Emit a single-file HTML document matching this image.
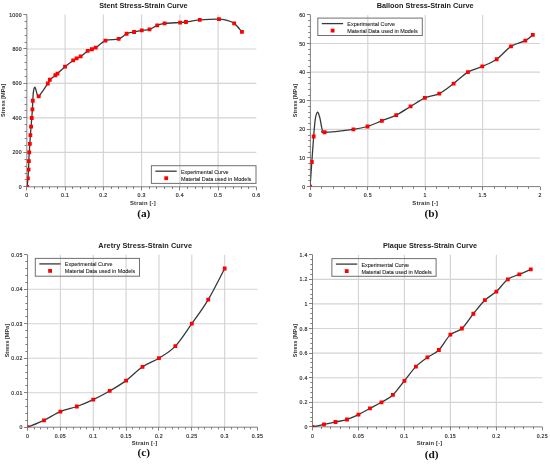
<!DOCTYPE html>
<html><head><meta charset="utf-8"><style>
html,body{margin:0;padding:0;background:#fff;width:550px;height:464px;overflow:hidden}
svg{display:block;will-change:transform}
text{font-family:"Liberation Sans",sans-serif}
</style></head><body>
<svg width="550" height="464" viewBox="0 0 550 464">
<rect width="550" height="464" fill="#fff"/>
<clipPath id="ca"><rect x="26.85" y="14.50" width="229.50" height="172.30"/></clipPath>
<path d="M65.10,14.50V186.80M103.35,14.50V186.80M141.60,14.50V186.80M179.85,14.50V186.80M218.10,14.50V186.80M26.85,152.34H256.35M26.85,117.88H256.35M26.85,83.42H256.35M26.85,48.96H256.35" stroke="#d4d4d4" stroke-width="1.15" fill="none"/>
<path d="M26.85,14.50V186.80M26.85,186.80H256.35M26.50,186.80V190.30M34.50,186.80V189.00M42.50,186.80V189.00M49.50,186.80V189.00M57.50,186.80V189.00M65.50,186.80V190.30M72.50,186.80V189.00M80.50,186.80V189.00M88.50,186.80V189.00M95.50,186.80V189.00M103.50,186.80V190.30M111.50,186.80V189.00M118.50,186.80V189.00M126.50,186.80V189.00M133.50,186.80V189.00M141.50,186.80V190.30M149.50,186.80V189.00M156.50,186.80V189.00M164.50,186.80V189.00M172.50,186.80V189.00M179.50,186.80V190.30M187.50,186.80V189.00M195.50,186.80V189.00M202.50,186.80V189.00M210.50,186.80V189.00M218.50,186.80V190.30M225.50,186.80V189.00M233.50,186.80V189.00M241.50,186.80V189.00M248.50,186.80V189.00M256.50,186.80V190.30M23.35,186.50H26.85M24.65,179.50H26.85M24.65,173.50H26.85M24.65,166.50H26.85M24.65,159.50H26.85M23.35,152.50H26.85M24.65,145.50H26.85M24.65,138.50H26.85M24.65,131.50H26.85M24.65,124.50H26.85M23.35,117.50H26.85M24.65,110.50H26.85M24.65,104.50H26.85M24.65,97.50H26.85M24.65,90.50H26.85M23.35,83.50H26.85M24.65,76.50H26.85M24.65,69.50H26.85M24.65,62.50H26.85M24.65,55.50H26.85M23.35,48.50H26.85M24.65,42.50H26.85M24.65,35.50H26.85M24.65,28.50H26.85M24.65,21.50H26.85M23.35,14.50H26.85" stroke="#707070" stroke-width="0.9" fill="none"/>
<g font-size="5.2" fill="#333" stroke="#333" stroke-width="0.18" letter-spacing="0.3"><text x="26.85" y="197.10" text-anchor="middle">0</text><text x="65.10" y="197.10" text-anchor="middle">0.1</text><text x="103.35" y="197.10" text-anchor="middle">0.2</text><text x="141.60" y="197.10" text-anchor="middle">0.3</text><text x="179.85" y="197.10" text-anchor="middle">0.4</text><text x="218.10" y="197.10" text-anchor="middle">0.5</text><text x="256.35" y="197.10" text-anchor="middle">0.6</text><text x="21.95" y="188.80" text-anchor="end">0</text><text x="21.95" y="154.34" text-anchor="end">200</text><text x="21.95" y="119.88" text-anchor="end">400</text><text x="21.95" y="85.42" text-anchor="end">600</text><text x="21.95" y="50.96" text-anchor="end">800</text><text x="21.95" y="16.50" text-anchor="end">1000</text></g>
<path d="M27.25,186.90 C27.36,185.46 27.68,181.16 27.90,178.28 C28.12,175.41 28.39,172.54 28.55,169.67 C28.71,166.80 28.74,163.93 28.86,161.06 C28.97,158.18 29.07,155.31 29.24,152.44 C29.40,149.57 29.66,146.70 29.85,143.83 C30.04,140.95 30.18,138.08 30.39,135.21 C30.59,132.34 30.85,129.47 31.07,126.59 C31.30,123.72 31.54,120.85 31.76,117.98 C31.99,115.11 32.24,112.24 32.41,109.37 C32.59,106.49 32.64,103.62 32.80,100.75 C32.96,97.88 33.15,94.20 33.37,92.14 C33.59,90.07 33.91,89.15 34.13,88.34 C34.36,87.54 34.52,87.40 34.71,87.31 C34.90,87.22 35.06,87.31 35.28,87.83 C35.51,88.34 35.73,89.32 36.05,90.41 C36.37,91.50 36.75,93.37 37.20,94.37 C37.64,95.38 36.96,98.25 38.73,96.44 C40.49,94.63 45.94,86.31 47.79,83.52 C49.64,80.73 48.56,81.11 49.82,79.73 C51.08,78.35 54.09,76.28 55.36,75.25 C56.64,74.22 55.85,74.96 57.47,73.53 C59.08,72.09 62.43,68.82 65.04,66.63 C67.65,64.45 71.22,61.81 73.15,60.43 C75.08,59.05 75.35,59.02 76.59,58.36 C77.84,57.70 78.76,57.70 80.61,56.47 C82.46,55.23 85.80,52.16 87.69,50.96 C89.57,49.75 90.55,49.78 91.89,49.23 C93.23,48.69 93.45,49.12 95.72,47.68 C97.98,46.25 101.65,42.08 105.47,40.62 C109.30,39.15 115.15,40.04 118.67,38.89 C122.19,37.75 124.02,34.87 126.59,33.73 C129.15,32.58 131.56,32.58 134.08,32.00 C136.61,31.43 139.16,30.71 141.73,30.28 C144.30,29.85 146.92,30.25 149.50,29.42 C152.08,28.59 154.71,26.29 157.22,25.28 C159.74,24.28 160.74,23.85 164.57,23.39 C168.39,22.93 176.60,22.76 180.17,22.53 C183.74,22.30 182.72,22.44 185.99,22.01 C189.25,21.58 194.26,20.43 199.76,19.94 C205.25,19.45 214.56,19.05 218.96,19.08 C223.36,19.11 223.61,19.40 226.15,20.11 C228.69,20.83 231.55,21.43 234.18,23.39 C236.82,25.34 240.65,30.42 241.95,31.83" stroke="#383838" stroke-width="1.3" fill="none" clip-path="url(#ca)"/>
<path d="M25.35,185.00h3.80v3.80h-3.80zM26.00,176.38h3.80v3.80h-3.80zM26.65,167.77h3.80v3.80h-3.80zM26.96,159.16h3.80v3.80h-3.80zM27.34,150.54h3.80v3.80h-3.80zM27.95,141.93h3.80v3.80h-3.80zM28.49,133.31h3.80v3.80h-3.80zM29.18,124.69h3.80v3.80h-3.80zM29.86,116.08h3.80v3.80h-3.80zM30.51,107.47h3.80v3.80h-3.80zM30.90,98.85h3.80v3.80h-3.80zM36.83,94.54h3.80v3.80h-3.80zM45.89,81.62h3.80v3.80h-3.80zM47.92,77.83h3.80v3.80h-3.80zM53.46,73.35h3.80v3.80h-3.80zM55.57,71.63h3.80v3.80h-3.80zM63.14,64.73h3.80v3.80h-3.80zM71.25,58.53h3.80v3.80h-3.80zM74.69,56.46h3.80v3.80h-3.80zM78.71,54.57h3.80v3.80h-3.80zM85.79,49.06h3.80v3.80h-3.80zM89.99,47.33h3.80v3.80h-3.80zM93.82,45.78h3.80v3.80h-3.80zM103.57,38.72h3.80v3.80h-3.80zM116.77,36.99h3.80v3.80h-3.80zM124.69,31.83h3.80v3.80h-3.80zM132.18,30.10h3.80v3.80h-3.80zM139.83,28.38h3.80v3.80h-3.80zM147.60,27.52h3.80v3.80h-3.80zM155.32,23.38h3.80v3.80h-3.80zM162.67,21.49h3.80v3.80h-3.80zM178.27,20.63h3.80v3.80h-3.80zM184.09,20.11h3.80v3.80h-3.80zM197.86,18.04h3.80v3.80h-3.80zM217.06,17.18h3.80v3.80h-3.80zM232.28,21.49h3.80v3.80h-3.80zM240.05,29.93h3.80v3.80h-3.80z" fill="#ff0000" clip-path="url(#ca)"/>
<rect x="151.40" y="165.70" width="104.60" height="17.70" fill="none" stroke="#707070" stroke-width="1"/>
<path d="M155.40,171.20h21.3" stroke="#383838" stroke-width="1.3"/>
<rect x="164.30" y="176.30" width="3.8" height="3.8" fill="#ff0000"/>
<g font-size="5.45" fill="#1a1a1a" stroke="#222" stroke-width="0.08"><text x="180.90" y="173.70">Experimental Curve</text><text x="180.90" y="180.60">Material Data used in Models</text></g>
<text x="143.40" y="8.00" font-size="7.3" font-weight="bold" fill="#222" text-anchor="middle" letter-spacing="0">Stent Stress-Strain Curve</text>
<text x="142.90" y="205.00" font-size="5.9" font-weight="bold" fill="#333" text-anchor="middle" letter-spacing="0.15">Strain [-]</text>
<text transform="translate(5.40,100.40) rotate(-90)" font-size="5.5" font-weight="bold" fill="#333" text-anchor="middle">Stress [MPa]</text>
<text x="143.80" y="217.40" style="font-family:&quot;Liberation Serif&quot;,serif" font-size="11.3" font-weight="bold" fill="#111" text-anchor="middle">(a)</text>
<clipPath id="cb"><rect x="310.40" y="14.90" width="229.60" height="171.70"/></clipPath>
<path d="M367.80,14.90V186.60M425.20,14.90V186.60M482.60,14.90V186.60M310.40,157.98H540.00M310.40,129.37H540.00M310.40,100.75H540.00M310.40,72.13H540.00M310.40,43.52H540.00" stroke="#d4d4d4" stroke-width="1.15" fill="none"/>
<path d="M310.40,14.90V186.60M310.40,186.60H540.00M310.50,186.60V190.10M321.50,186.60V188.80M333.50,186.60V188.80M344.50,186.60V188.80M356.50,186.60V188.80M367.50,186.60V190.10M379.50,186.60V188.80M390.50,186.60V188.80M402.50,186.60V188.80M413.50,186.60V188.80M425.50,186.60V190.10M436.50,186.60V188.80M448.50,186.60V188.80M459.50,186.60V188.80M471.50,186.60V188.80M482.50,186.60V190.10M494.50,186.60V188.80M505.50,186.60V188.80M517.50,186.60V188.80M528.50,186.60V188.80M540.50,186.60V190.10M306.90,186.50H310.40M308.20,180.50H310.40M308.20,175.50H310.40M308.20,169.50H310.40M308.20,163.50H310.40M306.90,157.50H310.40M308.20,152.50H310.40M308.20,146.50H310.40M308.20,140.50H310.40M308.20,135.50H310.40M306.90,129.50H310.40M308.20,123.50H310.40M308.20,117.50H310.40M308.20,112.50H310.40M308.20,106.50H310.40M306.90,100.50H310.40M308.20,95.50H310.40M308.20,89.50H310.40M308.20,83.50H310.40M308.20,77.50H310.40M306.90,72.50H310.40M308.20,66.50H310.40M308.20,60.50H310.40M308.20,54.50H310.40M308.20,49.50H310.40M306.90,43.50H310.40M308.20,37.50H310.40M308.20,32.50H310.40M308.20,26.50H310.40M308.20,20.50H310.40M306.90,14.50H310.40" stroke="#707070" stroke-width="0.9" fill="none"/>
<g font-size="5.2" fill="#333" stroke="#333" stroke-width="0.18" letter-spacing="0.3"><text x="310.40" y="197.00" text-anchor="middle">0</text><text x="367.80" y="197.00" text-anchor="middle">0.5</text><text x="425.20" y="197.00" text-anchor="middle">1</text><text x="482.60" y="197.00" text-anchor="middle">1.5</text><text x="540.00" y="197.00" text-anchor="middle">2</text><text x="305.50" y="188.60" text-anchor="end">0</text><text x="305.50" y="159.98" text-anchor="end">10</text><text x="305.50" y="131.37" text-anchor="end">20</text><text x="305.50" y="102.75" text-anchor="end">30</text><text x="305.50" y="74.13" text-anchor="end">40</text><text x="305.50" y="45.52" text-anchor="end">50</text><text x="305.50" y="16.90" text-anchor="end">60</text></g>
<path d="M310.10,186.60 C310.39,182.50 311.23,170.34 311.82,161.99 C312.42,153.64 313.08,143.63 313.66,136.52 C314.23,129.41 314.62,123.40 315.27,119.35 C315.92,115.30 316.80,112.44 317.56,112.20 C318.33,111.96 319.09,115.06 319.86,117.92 C320.62,120.78 321.37,126.98 322.15,129.37 C322.94,131.75 319.36,132.23 324.56,132.23 C329.77,132.23 346.22,130.32 353.38,129.37 C360.54,128.41 362.75,127.94 367.50,126.50 C372.25,125.07 377.07,122.69 381.85,120.78 C386.63,118.87 391.42,117.44 396.20,115.06 C400.98,112.67 405.77,109.34 410.55,106.47 C415.33,103.61 420.12,100.03 424.90,97.89 C429.68,95.74 434.47,95.98 439.25,93.60 C444.03,91.21 448.82,87.16 453.60,83.58 C458.38,80.00 463.17,74.99 467.95,72.13 C472.73,69.27 477.52,68.56 482.30,66.41 C487.08,64.26 491.87,62.59 496.65,59.26 C501.43,55.92 506.22,49.48 511.00,46.38 C515.78,43.28 521.71,42.56 525.35,40.66 C528.99,38.75 531.57,35.89 532.81,34.93" stroke="#383838" stroke-width="1.3" fill="none" clip-path="url(#cb)"/>
<path d="M308.20,184.70h3.80v3.80h-3.80zM309.92,160.09h3.80v3.80h-3.80zM311.76,134.62h3.80v3.80h-3.80zM322.66,130.33h3.80v3.80h-3.80zM351.48,127.47h3.80v3.80h-3.80zM365.60,124.60h3.80v3.80h-3.80zM379.95,118.88h3.80v3.80h-3.80zM394.30,113.16h3.80v3.80h-3.80zM408.65,104.57h3.80v3.80h-3.80zM423.00,95.99h3.80v3.80h-3.80zM437.35,91.70h3.80v3.80h-3.80zM451.70,81.68h3.80v3.80h-3.80zM466.05,70.23h3.80v3.80h-3.80zM480.40,64.51h3.80v3.80h-3.80zM494.75,57.36h3.80v3.80h-3.80zM509.10,44.48h3.80v3.80h-3.80zM523.45,38.76h3.80v3.80h-3.80zM530.91,33.03h3.80v3.80h-3.80z" fill="#ff0000" clip-path="url(#cb)"/>
<rect x="317.80" y="18.10" width="104.50" height="17.40" fill="none" stroke="#707070" stroke-width="1"/>
<path d="M321.80,23.60h21.3" stroke="#383838" stroke-width="1.3"/>
<rect x="330.70" y="28.70" width="3.8" height="3.8" fill="#ff0000"/>
<g font-size="5.45" fill="#1a1a1a" stroke="#222" stroke-width="0.08"><text x="347.30" y="26.10">Experimental Curve</text><text x="347.30" y="33.00">Material Data used in Models</text></g>
<text x="425.20" y="8.00" font-size="7.3" font-weight="bold" fill="#222" text-anchor="middle" letter-spacing="0">Balloon Stress-Strain Curve</text>
<text x="425.20" y="205.00" font-size="5.9" font-weight="bold" fill="#333" text-anchor="middle" letter-spacing="0.15">Strain [-]</text>
<text transform="translate(296.70,100.60) rotate(-90)" font-size="5.5" font-weight="bold" fill="#333" text-anchor="middle">Stress [MPa]</text>
<text x="431.30" y="217.40" style="font-family:&quot;Liberation Serif&quot;,serif" font-size="11.3" font-weight="bold" fill="#111" text-anchor="middle">(b)</text>
<clipPath id="cc"><rect x="27.55" y="254.70" width="229.95" height="172.50"/></clipPath>
<path d="M60.40,254.70V427.20M93.25,254.70V427.20M126.10,254.70V427.20M158.95,254.70V427.20M191.80,254.70V427.20M224.65,254.70V427.20M27.55,392.70H257.50M27.55,358.20H257.50M27.55,323.70H257.50M27.55,289.20H257.50" stroke="#d4d4d4" stroke-width="1.15" fill="none"/>
<path d="M27.55,254.70V427.20M27.55,427.20H257.50M27.50,427.20V430.70M34.50,427.20V429.40M40.50,427.20V429.40M47.50,427.20V429.40M53.50,427.20V429.40M60.50,427.20V430.70M66.50,427.20V429.40M73.50,427.20V429.40M80.50,427.20V429.40M86.50,427.20V429.40M93.50,427.20V430.70M99.50,427.20V429.40M106.50,427.20V429.40M112.50,427.20V429.40M119.50,427.20V429.40M126.50,427.20V430.70M132.50,427.20V429.40M139.50,427.20V429.40M145.50,427.20V429.40M152.50,427.20V429.40M158.50,427.20V430.70M165.50,427.20V429.40M172.50,427.20V429.40M178.50,427.20V429.40M185.50,427.20V429.40M191.50,427.20V430.70M198.50,427.20V429.40M204.50,427.20V429.40M211.50,427.20V429.40M218.50,427.20V429.40M224.50,427.20V430.70M231.50,427.20V429.40M237.50,427.20V429.40M244.50,427.20V429.40M250.50,427.20V429.40M257.50,427.20V430.70M24.05,427.50H27.55M25.35,420.50H27.55M25.35,413.50H27.55M25.35,406.50H27.55M25.35,399.50H27.55M24.05,392.50H27.55M25.35,385.50H27.55M25.35,378.50H27.55M25.35,372.50H27.55M25.35,365.50H27.55M24.05,358.50H27.55M25.35,351.50H27.55M25.35,344.50H27.55M25.35,337.50H27.55M25.35,330.50H27.55M24.05,323.50H27.55M25.35,316.50H27.55M25.35,309.50H27.55M25.35,303.50H27.55M25.35,296.50H27.55M24.05,289.50H27.55M25.35,282.50H27.55M25.35,275.50H27.55M25.35,268.50H27.55M25.35,261.50H27.55M24.05,254.50H27.55" stroke="#707070" stroke-width="0.9" fill="none"/>
<g font-size="5.2" fill="#333" stroke="#333" stroke-width="0.18" letter-spacing="0.3"><text x="27.55" y="438.10" text-anchor="middle">0</text><text x="60.40" y="438.10" text-anchor="middle">0.05</text><text x="93.25" y="438.10" text-anchor="middle">0.1</text><text x="126.10" y="438.10" text-anchor="middle">0.15</text><text x="158.95" y="438.10" text-anchor="middle">0.2</text><text x="191.80" y="438.10" text-anchor="middle">0.25</text><text x="224.65" y="438.10" text-anchor="middle">0.3</text><text x="257.50" y="438.10" text-anchor="middle">0.35</text><text x="22.65" y="429.20" text-anchor="end">0</text><text x="22.65" y="394.70" text-anchor="end">0.01</text><text x="22.65" y="360.20" text-anchor="end">0.02</text><text x="22.65" y="325.70" text-anchor="end">0.03</text><text x="22.65" y="291.20" text-anchor="end">0.04</text><text x="22.65" y="256.70" text-anchor="end">0.05</text></g>
<path d="M27.55,427.20 C30.29,426.05 38.50,422.89 43.98,420.30 C49.45,417.71 54.93,413.98 60.40,411.68 C65.88,409.38 71.35,408.51 76.83,406.50 C82.30,404.49 87.78,402.19 93.25,399.60 C98.72,397.01 104.20,394.14 109.67,390.97 C115.15,387.81 120.62,384.65 126.10,380.62 C131.58,376.60 137.05,370.56 142.53,366.82 C148.00,363.09 153.48,361.65 158.95,358.20 C164.43,354.75 169.90,351.88 175.38,346.12 C180.85,340.38 186.32,331.46 191.80,323.70 C197.28,315.94 202.75,308.75 208.23,299.55 C213.70,290.35 221.91,273.68 224.65,268.50" stroke="#383838" stroke-width="1.3" fill="none" clip-path="url(#cc)"/>
<path d="M25.65,425.30h3.80v3.80h-3.80zM42.08,418.40h3.80v3.80h-3.80zM58.50,409.78h3.80v3.80h-3.80zM74.92,404.60h3.80v3.80h-3.80zM91.35,397.70h3.80v3.80h-3.80zM107.77,389.07h3.80v3.80h-3.80zM124.20,378.73h3.80v3.80h-3.80zM140.62,364.93h3.80v3.80h-3.80zM157.05,356.30h3.80v3.80h-3.80zM173.47,344.23h3.80v3.80h-3.80zM189.90,321.80h3.80v3.80h-3.80zM206.33,297.65h3.80v3.80h-3.80zM222.75,266.60h3.80v3.80h-3.80z" fill="#ff0000" clip-path="url(#cc)"/>
<rect x="35.30" y="258.40" width="104.20" height="17.80" fill="none" stroke="#707070" stroke-width="1"/>
<path d="M39.30,263.90h21.3" stroke="#383838" stroke-width="1.3"/>
<rect x="48.20" y="269.00" width="3.8" height="3.8" fill="#ff0000"/>
<g font-size="5.45" fill="#1a1a1a" stroke="#222" stroke-width="0.08"><text x="64.80" y="266.40">Experimental Curve</text><text x="64.80" y="273.30">Material Data used in Models</text></g>
<text x="145.20" y="248.40" font-size="7.3" font-weight="bold" fill="#222" text-anchor="middle" letter-spacing="0.08">Aretry Stress-Strain Curve</text>
<text x="144.60" y="445.00" font-size="5.9" font-weight="bold" fill="#333" text-anchor="middle" letter-spacing="0.15">Strain [-]</text>
<text transform="translate(9.30,340.70) rotate(-90)" font-size="5.5" font-weight="bold" fill="#333" text-anchor="middle">Stress [MPa]</text>
<text x="143.80" y="456.40" style="font-family:&quot;Liberation Serif&quot;,serif" font-size="11.3" font-weight="bold" fill="#111" text-anchor="middle">(c)</text>
<clipPath id="cd"><rect x="312.50" y="254.70" width="229.80" height="172.20"/></clipPath>
<path d="M358.46,254.70V426.90M404.42,254.70V426.90M450.38,254.70V426.90M496.34,254.70V426.90M312.50,402.30H542.30M312.50,377.70H542.30M312.50,353.10H542.30M312.50,328.50H542.30M312.50,303.90H542.30M312.50,279.30H542.30" stroke="#d4d4d4" stroke-width="1.15" fill="none"/>
<path d="M312.50,254.70V426.90M312.50,426.90H542.30M312.50,426.90V430.40M321.50,426.90V429.10M330.50,426.90V429.10M340.50,426.90V429.10M349.50,426.90V429.10M358.50,426.90V430.40M367.50,426.90V429.10M376.50,426.90V429.10M386.50,426.90V429.10M395.50,426.90V429.10M404.50,426.90V430.40M413.50,426.90V429.10M422.50,426.90V429.10M431.50,426.90V429.10M441.50,426.90V429.10M450.50,426.90V430.40M459.50,426.90V429.10M468.50,426.90V429.10M477.50,426.90V429.10M487.50,426.90V429.10M496.50,426.90V430.40M505.50,426.90V429.10M514.50,426.90V429.10M523.50,426.90V429.10M533.50,426.90V429.10M542.50,426.90V430.40M309.00,426.50H312.50M310.30,421.50H312.50M310.30,417.50H312.50M310.30,412.50H312.50M310.30,407.50H312.50M309.00,402.50H312.50M310.30,397.50H312.50M310.30,392.50H312.50M310.30,387.50H312.50M310.30,382.50H312.50M309.00,377.50H312.50M310.30,372.50H312.50M310.30,367.50H312.50M310.30,362.50H312.50M310.30,358.50H312.50M309.00,353.50H312.50M310.30,348.50H312.50M310.30,343.50H312.50M310.30,338.50H312.50M310.30,333.50H312.50M309.00,328.50H312.50M310.30,323.50H312.50M310.30,318.50H312.50M310.30,313.50H312.50M310.30,308.50H312.50M309.00,303.50H312.50M310.30,298.50H312.50M310.30,294.50H312.50M310.30,289.50H312.50M310.30,284.50H312.50M309.00,279.50H312.50M310.30,274.50H312.50M310.30,269.50H312.50M310.30,264.50H312.50M310.30,259.50H312.50M309.00,254.50H312.50" stroke="#707070" stroke-width="0.9" fill="none"/>
<g font-size="5.2" fill="#333" stroke="#333" stroke-width="0.18" letter-spacing="0.3"><text x="312.50" y="438.00" text-anchor="middle">0</text><text x="358.46" y="438.00" text-anchor="middle">0.05</text><text x="404.42" y="438.00" text-anchor="middle">0.1</text><text x="450.38" y="438.00" text-anchor="middle">0.15</text><text x="496.34" y="438.00" text-anchor="middle">0.2</text><text x="542.30" y="438.00" text-anchor="middle">0.25</text><text x="307.60" y="428.90" text-anchor="end">0</text><text x="307.60" y="404.30" text-anchor="end">0.2</text><text x="307.60" y="379.70" text-anchor="end">0.4</text><text x="307.60" y="355.10" text-anchor="end">0.6</text><text x="307.60" y="330.50" text-anchor="end">0.8</text><text x="307.60" y="305.90" text-anchor="end">1</text><text x="307.60" y="281.30" text-anchor="end">1.2</text><text x="307.60" y="256.70" text-anchor="end">1.4</text></g>
<path d="M312.50,426.90 C314.42,426.49 320.16,425.26 323.99,424.44 C327.82,423.62 331.65,422.80 335.48,421.98 C339.31,421.16 343.14,420.75 346.97,419.52 C350.80,418.29 354.63,416.44 358.46,414.60 C362.29,412.75 366.12,410.50 369.95,408.45 C373.78,406.40 377.61,404.55 381.44,402.30 C385.27,400.04 389.10,398.51 392.93,394.92 C396.76,391.33 400.59,385.49 404.42,380.77 C408.25,376.06 412.08,370.52 415.91,366.63 C419.74,362.74 423.57,360.17 427.40,357.40 C431.23,354.64 435.06,353.82 438.89,350.02 C442.72,346.23 446.55,338.24 450.38,334.65 C454.21,331.06 458.04,331.99 461.87,328.50 C465.70,325.01 469.53,318.45 473.36,313.74 C477.19,309.02 481.02,303.90 484.85,300.21 C488.68,296.52 492.51,295.08 496.34,291.60 C500.17,288.11 504.00,282.17 507.83,279.30 C511.66,276.43 515.49,276.02 519.32,274.38 C523.15,272.74 528.89,270.28 530.81,269.46" stroke="#383838" stroke-width="1.3" fill="none" clip-path="url(#cd)"/>
<path d="M310.60,425.00h3.80v3.80h-3.80zM322.09,422.54h3.80v3.80h-3.80zM333.58,420.08h3.80v3.80h-3.80zM345.07,417.62h3.80v3.80h-3.80zM356.56,412.70h3.80v3.80h-3.80zM368.05,406.55h3.80v3.80h-3.80zM379.54,400.40h3.80v3.80h-3.80zM391.03,393.02h3.80v3.80h-3.80zM402.52,378.88h3.80v3.80h-3.80zM414.01,364.73h3.80v3.80h-3.80zM425.50,355.50h3.80v3.80h-3.80zM436.99,348.12h3.80v3.80h-3.80zM448.48,332.75h3.80v3.80h-3.80zM459.97,326.60h3.80v3.80h-3.80zM471.46,311.84h3.80v3.80h-3.80zM482.95,298.31h3.80v3.80h-3.80zM494.44,289.70h3.80v3.80h-3.80zM505.93,277.40h3.80v3.80h-3.80zM517.42,272.48h3.80v3.80h-3.80zM528.91,267.56h3.80v3.80h-3.80z" fill="#ff0000" clip-path="url(#cd)"/>
<rect x="331.90" y="258.60" width="104.20" height="17.70" fill="none" stroke="#707070" stroke-width="1"/>
<path d="M335.90,264.10h21.3" stroke="#383838" stroke-width="1.3"/>
<rect x="344.80" y="269.20" width="3.8" height="3.8" fill="#ff0000"/>
<g font-size="5.45" fill="#1a1a1a" stroke="#222" stroke-width="0.08"><text x="361.40" y="266.60">Experimental Curve</text><text x="361.40" y="273.50">Material Data used in Models</text></g>
<text x="430.00" y="248.40" font-size="7.3" font-weight="bold" fill="#222" text-anchor="middle" letter-spacing="0">Plaque Stress-Strain Curve</text>
<text x="429.50" y="445.00" font-size="5.9" font-weight="bold" fill="#333" text-anchor="middle" letter-spacing="0.15">Strain [-]</text>
<text transform="translate(297.30,340.50) rotate(-90)" font-size="5.5" font-weight="bold" fill="#333" text-anchor="middle">Stress [MPa]</text>
<text x="431.70" y="458.20" style="font-family:&quot;Liberation Serif&quot;,serif" font-size="11.3" font-weight="bold" fill="#111" text-anchor="middle">(d)</text>
</svg>
</body></html>
